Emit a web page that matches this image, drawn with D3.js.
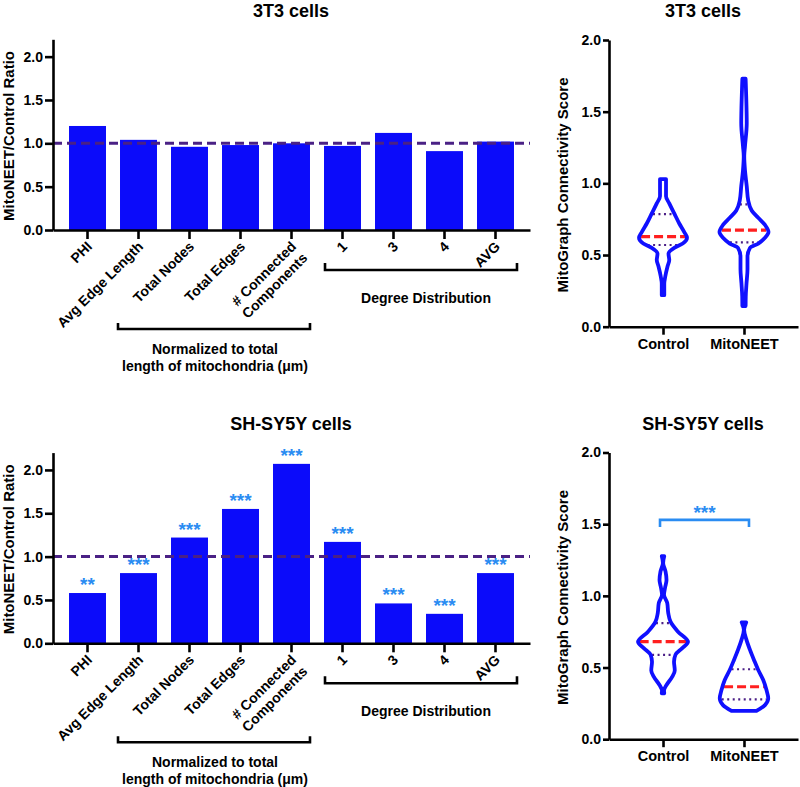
<!DOCTYPE html>
<html><head><meta charset="utf-8">
<script src="https://cdn.jsdelivr.net/npm/d3@7"></script>
<style>
body{margin:0;background:#fff}
text{font-family:"Liberation Sans",Arial,Helvetica,sans-serif;font-weight:bold;fill:#000}
</style>
</head><body>
<svg id="c" width="800" height="787"></svg>
<script>
// ---------------- data ----------------
const categories = ["PHI","Avg Edge Length","Total Nodes","Total Edges","# Connected\nComponents","1","3","4","AVG"];
const ratio3T3   = [1.20,1.04,0.96,0.98,1.00,0.97,1.12,0.91,1.02];
const ratioSHSY5Y= [0.58,0.81,1.22,1.55,2.07,1.17,0.46,0.34,0.81];
const stars3T3   = ["","","","","","","","",""];
const starsSHSY5Y= ["**","***","***","***","***","***","***","***","***"];
const ratioTicks = [0,0.5,1.0,1.5,2.0];
const bracketNormalizedText = ["Normalized to total","length of mitochondria (\u03bcm)"];
const bracketDegreeText = "Degree Distribution";

const groups = ["Control","MitoNEET"];
const scoreTicks = [0,0.5,1.0,1.5,2.0];
// violin profiles: [score, relative density]
const violin3T3Control = [[1.03,0.12],[0.91,0.12],[0.86,0.25],[0.79,0.45],[0.72,0.65],[0.66,0.85],[0.62,0.96],[0.58,0.79],[0.55,0.45],[0.51,0.22],[0.465,0.25],[0.42,0.18],[0.35,0.09],[0.30,0.05],[0.22,0.05]];
const violin3T3MitoNEET = [[1.73,0.065],[1.60,0.09],[1.42,0.11],[1.26,0.04],[1.19,0.01],[1.09,0.04],[0.98,0.11],[0.88,0.17],[0.81,0.31],[0.76,0.57],[0.71,0.84],[0.66,0.98],[0.62,0.84],[0.58,0.57],[0.55,0.24],[0.49,0.14],[0.40,0.14],[0.30,0.10],[0.21,0.07],[0.144,0.065]];
const violinSHControl = [[1.277,0.05],[1.23,0.005],[1.17,0.10],[1.11,0.14],[1.055,0.08],[1.008,0.04],[0.95,0.17],[0.88,0.21],[0.82,0.30],[0.75,0.60],[0.68,1.0],[0.635,0.77],[0.59,0.50],[0.54,0.44],[0.48,0.47],[0.436,0.37],[0.378,0.14],[0.34,0.04],[0.32,0.05]];
const violinSHMitoNEET = [[0.815,0.09],[0.763,0.005],[0.693,0.10],[0.623,0.24],[0.553,0.40],[0.483,0.57],[0.413,0.77],[0.343,0.90],[0.285,0.97],[0.238,0.84],[0.198,0.50]];
// quartiles: [q1, median, q3]
const quart3T3 = [[0.57,0.628,0.786],[0.588,0.674,0.853]];
const quartSH  = [[0.588,0.681,0.81],[0.278,0.366,0.488]];
const sigSH = {stars:"***", level:1.53};

// ---------------- drawing ----------------
const svg = d3.select("#c");
const BLUE = "#0b0bfa", STAR = "#2a8cf2", REF = "#4a2185";

function barPanel(title, values, stars, top) {
  const g = svg.append("g").attr("transform", `translate(0,${top})`);
  const x = d3.scaleBand().domain(categories).range([53,530]).paddingInner(0.275).paddingOuter(0.314);
  const y = d3.scaleLinear().domain([0,2.2]).range([230,39.3]);
  const bw = x.bandwidth();

  g.append("text").attr("x",291).attr("y",17).attr("text-anchor","middle").attr("font-size",18).text(title);

  g.selectAll("rect.bar").data(values).enter().append("rect")
    .attr("x",(d,i)=>x(categories[i])).attr("y",d=>y(d))
    .attr("width",bw).attr("height",d=>y(0)-y(d)).attr("fill",BLUE);

  g.selectAll("text.star").data(stars).enter().append("text")
    .attr("x",(d,i)=>x(categories[i])+bw/2).attr("y",(d,i)=>y(values[i])-2)
    .attr("text-anchor","middle").attr("font-size",19).style("fill",STAR).text(d=>d);

  g.append("line").attr("x1",53).attr("x2",530).attr("y1",y(1)).attr("y2",y(1))
    .attr("stroke",REF).attr("stroke-width",3).attr("stroke-dasharray","9,5");

  const ya = g.append("g").attr("transform","translate(53,0)")
    .call(d3.axisLeft(y).tickValues(ratioTicks).tickFormat(d3.format(".1f")).tickSize(8).tickSizeOuter(0).tickPadding(2));
  const xa = g.append("g").attr("transform",`translate(0,${y(0)})`)
    .call(d3.axisBottom(x).tickSize(9).tickSizeOuter(0).tickFormat(""));
  [ya,xa].forEach(a=>{
    a.select(".domain").attr("stroke","#000").attr("stroke-width",2.6);
    a.selectAll(".tick line").attr("stroke","#000").attr("stroke-width",2.6);
    a.selectAll(".tick text").attr("font-size",14).attr("font-family",null).style("font-weight","bold");
  });

  g.append("text").attr("transform","translate(13.5,136) rotate(-90)").attr("text-anchor","middle")
    .attr("font-size",15).text("MitoNEET/Control Ratio");

  categories.forEach(c=>{
    const lines = c.split("\n");
    const t = g.append("text").attr("transform",`translate(${x(c)+bw/2+2},${y(0)+14}) rotate(-45)`)
      .attr("text-anchor","end").attr("font-size",14);
    lines.forEach((l,i)=>t.append("tspan").attr("x",0).attr("dy",i===0?"0.35em":"1.15em").text(l));
  });

  // bracket: normalized
  const b1x0 = x(categories[1])-2, b1x1 = x(categories[4])+bw, b1y = y(0)+99;
  g.append("path").attr("d",`M${b1x0},${b1y-6}V${b1y}H${b1x1}V${b1y-6}`)
    .attr("fill","none").attr("stroke","#000").attr("stroke-width",2.6);
  bracketNormalizedText.forEach((t,i)=>g.append("text").attr("x",(b1x0+b1x1)/2+1).attr("y",b1y+25+i*17)
    .attr("text-anchor","middle").attr("font-size",14).text(t));
  // bracket: degree
  const b2x0 = x(categories[5])+1, b2x1 = x(categories[8])+bw+3, b2y = y(0)+40;
  g.append("path").attr("d",`M${b2x0},${b2y-7}V${b2y}H${b2x1}V${b2y-7}`)
    .attr("fill","none").attr("stroke","#000").attr("stroke-width",2.6);
  g.append("text").attr("x",(b2x0+b2x1)/2+5).attr("y",b2y+33).attr("text-anchor","middle")
    .attr("font-size",14).text(bracketDegreeText);
}

function violinPanel(title, profiles, quarts, top, sig) {
  const g = svg.append("g").attr("transform", `translate(0,${top})`);
  const x = d3.scalePoint().domain(groups).range([609,798]).padding(0.667);
  const y = d3.scaleLinear().domain([0,2]).range([326.7,40]);
  const w = d3.scaleLinear().domain([0,1]).range([0,25]);

  g.append("text").attr("x",703).attr("y",17).attr("text-anchor","middle").attr("font-size",18).text(title);

  const ya = g.append("g").attr("transform","translate(609,0)")
    .call(d3.axisLeft(y).tickValues(scoreTicks).tickFormat(d3.format(".1f")).tickSize(6).tickSizeOuter(0).tickPadding(2));
  const xa = g.append("g").attr("transform",`translate(0,${y(0)})`)
    .call(d3.axisBottom(x).tickSize(8).tickSizeOuter(0).tickPadding(4));
  [ya,xa].forEach(a=>{
    a.select(".domain").attr("stroke","#000").attr("stroke-width",2.6);
    a.selectAll(".tick line").attr("stroke","#000").attr("stroke-width",2.6);
    a.selectAll(".tick text").attr("font-size",14).attr("font-family",null).style("font-weight","bold");
  });
  xa.selectAll(".tick text").attr("font-size",14.5);

  g.append("text").attr("transform","translate(568,185) rotate(-90)").attr("text-anchor","middle")
    .attr("font-size",15).text("MitoGraph Connectivity Score");

  profiles.forEach((p,i)=>{
    const cx = x(groups[i]);
    const area = d3.area().curve(d3.curveMonotoneY)
      .y(d=>y(d[0])).x0(d=>cx-w(d[1])).x1(d=>cx+w(d[1]));
    const interp = v=>{
      for (let k=0;k<p.length-1;k++){
        const a=p[k], b=p[k+1];
        if (v<=a[0] && v>=b[0]) { const t=(a[0]-v)/(a[0]-b[0]); return a[1]+(b[1]-a[1])*t; }
      }
      return 0;
    };
    const q = quarts[i];
    [q[0],q[2]].forEach(v=>{
      const hw = w(interp(v))-1.5;
      g.append("line").attr("x1",cx-hw).attr("x2",cx+hw).attr("y1",y(v)).attr("y2",y(v))
        .attr("stroke","#4b1f86").attr("stroke-width",2.2).attr("stroke-dasharray","2,3.5");
    });
    const hm = w(interp(q[1]))-1.5;
    g.append("line").attr("x1",cx-hm).attr("x2",cx+hm).attr("y1",y(q[1])).attr("y2",y(q[1]))
      .attr("stroke","#ff1f1f").attr("stroke-width",3.2).attr("stroke-dasharray","9,4");
    g.append("path").attr("d",area(p)).attr("fill","none").attr("stroke","#1010ff")
      .attr("stroke-width",3.8).attr("stroke-linejoin","round");
  });

  if (sig) {
    const x0 = x(groups[0])-3, x1 = x(groups[1])+5, yb = y(sig.level), ye = y(sig.level-0.05);
    g.append("path").attr("d",`M${x0},${ye}V${yb}H${x1}V${ye}`).attr("fill","none")
      .attr("stroke",STAR).attr("stroke-width",2.6);
    g.append("text").attr("x",(x0+x1)/2).attr("y",yb-1).attr("text-anchor","middle")
      .attr("font-size",19).style("fill",STAR).text(sig.stars);
  }
}

barPanel("3T3 cells", ratio3T3, stars3T3, 0);
barPanel("SH-SY5Y cells", ratioSHSY5Y, starsSHSY5Y, 413.3);
violinPanel("3T3 cells", [violin3T3Control, violin3T3MitoNEET], quart3T3, 0, null);
violinPanel("SH-SY5Y cells", [violinSHControl, violinSHMitoNEET], quartSH, 412.5, sigSH);
</script>
</body></html>
